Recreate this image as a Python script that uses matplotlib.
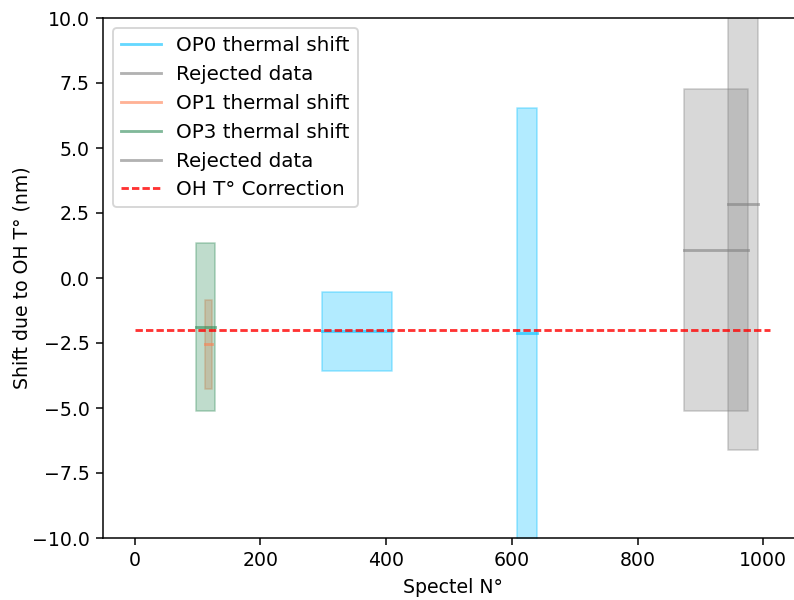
import matplotlib
matplotlib.use('Agg')
import matplotlib.pyplot as plt

# spectel ranges (start, end), mean shift and spread for each group
op0_ranges = [(298, 410), (608, 640)]
op0_mean = [-2.05, -2.13]
op0_std = [1.53, 8.67]

rej0_ranges = [(873, 975)]
rej0_mean = [1.08]
rej0_std = [6.2]

op1_ranges = [(112, 123.5)]
op1_mean = [-2.54]
op1_std = [1.71]

op3_ranges = [(98, 127)]
op3_mean = [-1.87]
op3_std = [3.23]

rej3_ranges = [(944, 992)]
rej3_mean = [2.85]
rej3_std = [9.45]

corr_x = [0, 1011]
corr_val = -2.0

dpi = 136
fig = plt.figure(figsize=(794 / dpi, 600 / dpi), dpi=dpi)
ax = fig.add_axes([103 / 794, 62 / 600, 699 / 794, 520 / 600])


def draw_group(ranges, means, stds, color, label):
    for i, (x0, x1) in enumerate(ranges):
        m, s = means[i], stds[i]
        ax.fill_between([x0, x1], m - s, m + s, color=color, alpha=0.3)
        ax.plot([x0, x1], [m, m], color=color, alpha=0.6,
                label=label if i == 0 else None)


draw_group(op0_ranges, op0_mean, op0_std, 'deepskyblue', 'OP0 thermal shift')
draw_group(rej0_ranges, rej0_mean, rej0_std, 'grey', 'Rejected data')
draw_group(op1_ranges, op1_mean, op1_std, 'coral', 'OP1 thermal shift')
draw_group(op3_ranges, op3_mean, op3_std, 'seagreen', 'OP3 thermal shift')
draw_group(rej3_ranges, rej3_mean, rej3_std, 'grey', 'Rejected data')

ax.plot(corr_x, [corr_val, corr_val], color='r', dashes=(2.6, 1.1),
        alpha=0.8, label='OH T° Correction')

ax.set_ylim(-10, 10)
ax.set_xlim(-50.5, 1061.5)
ax.set_xlabel('Spectel N°')
ax.set_ylabel('Shift due to OH T° (nm)', labelpad=0)
ax.legend(loc='upper left', fontsize=10.5)

fig.savefig('out.png', dpi=dpi)
